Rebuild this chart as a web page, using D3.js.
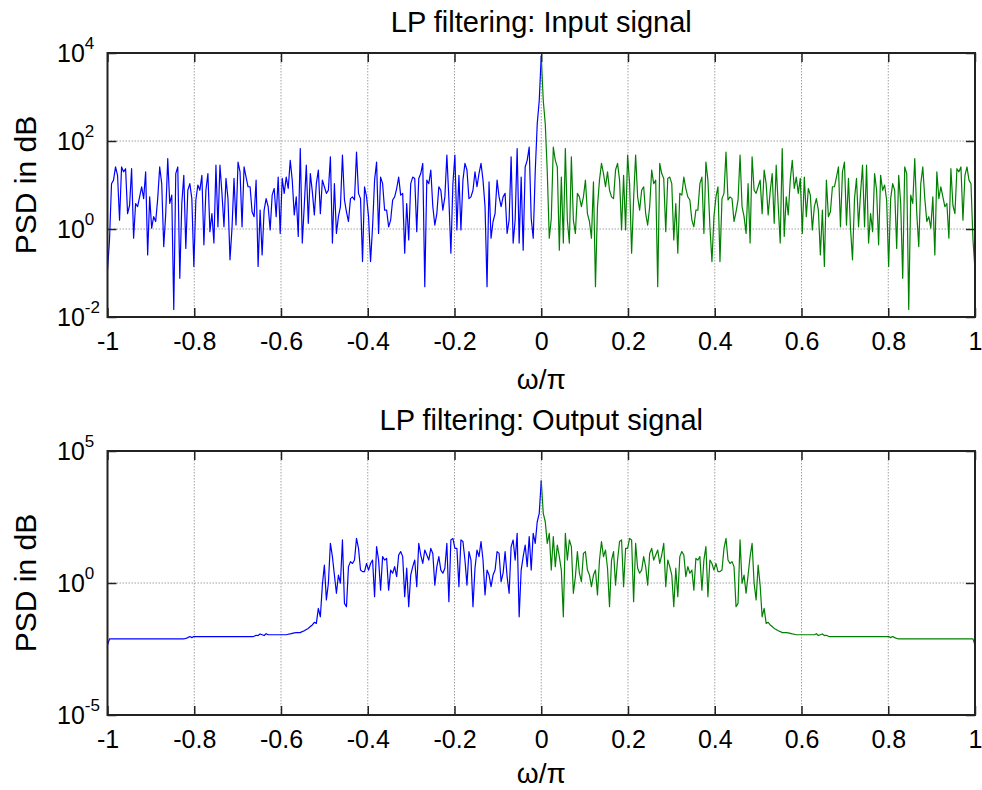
<!DOCTYPE html>
<html>
<head>
<meta charset="utf-8">
<script src="https://cdn.jsdelivr.net/npm/d3@7"></script>
<style>
  body { margin: 0; background: #fff; }
  svg { display: block; }
  text { font-family: "Liberation Sans", Arial, sans-serif; fill: #000; }
</style>
</head>
<body>
<svg id="fig" width="982" height="790"></svg>
<script>
// frequency axis (omega/pi) ticks
const freqTicks = [-1, -0.8, -0.6, -0.4, -0.2, 0, 0.2, 0.4, 0.6, 0.8, 1];
const freqTickLabels = ["-1", "-0.8", "-0.6", "-0.4", "-0.2", "0", "0.2", "0.4", "0.6", "0.8", "1"];

const inputTitle = "LP filtering: Input signal";
const outputTitle = "LP filtering: Output signal";
const yLabel = "PSD in dB";
const xLabel = "\u03c9/\u03c0";

// y ticks as powers of ten
const inputExpTicks = [-2, 0, 2, 4];
const outputExpTicks = [-5, 0, 5];

// log10(PSD), omega/pi from 0 to 1 (green half).
// the signal is real so the blue half (-1..0) is the same reading mirrored.
const inputPos = [
  3.94, 2.92, 2.39, 1.30, -0.21, 0.24, 1.86, 1.56, 1.41, -0.48,
  1.18, -0.32, 1.83, 0.20, -0.32, 1.64, 0.20, -0.10, 0.81, 0.73,
  0.51, 0.73, 1.11, 0.35, 0.17, -0.21, 1.07, -1.31, 0.51, 1.11,
  1.49, 1.26, 0.96, 1.30, 0.88, 0.73, 0.69, 1.34, 1.49, 1.11,
  -0.02, 1.22, -0.02, 1.68, 1.03, -0.55, 0.69, 1.68, 0.73, 0.43,
  0.88, 0.96, 0.35, 0.09, 0.51, 1.34, 1.03, 1.11, -1.31, 1.49,
  1.26, 1.15, -0.06, 1.15, 1.18, 1.03, -0.25, 0.58, -0.55, 0.81,
  0.77, 1.18, 0.92, 0.73, 0.66, 0.20, 0.05, 0.43, 0.43, 1.03,
  1.18, -0.10, 1.52, 1.11, 0.05, -0.74, 0.28, 0.73, 0.96, -0.74,
  0.69, 0.81, 1.75, 0.66, 0.73, 0.69, 0.17, 0.39, 0.66, 1.68,
  0.51, 0.28, -0.10, 1.03, -0.32, 1.64, 0.88, 0.81, 0.96, 1.11,
  0.35, 1.34, 1.03, 0.32, 0.85, 1.26, 0.13, 1.45, 0.54, -0.32,
  1.83, -0.17, 0.73, 0.32, 1.11, 1.56, 0.92, 1.18, 0.81, 1.15,
  -0.10, 1.18, 0.28, 0.92, 0.77, -0.02, 0.51, 0.69, 0.43, -0.59,
  0.43, -0.85, 1.11, 0.28, 0.39, 0.96, 0.96, 1.18, 1.41, 0.05,
  1.30, 1.52, 0.09, 1.15, 0.02, -0.70, 0.69, 1.15, 0.05, 0.81,
  1.45, 0.05, 1.45, -0.32, 0.35, -0.06, 1.26, 0.88, -0.36, 1.22,
  0.88, 1.00, 0.66, -0.85, 0.69, 1.03, 0.88, -0.44, 1.22, 0.58,
  -1.12, 1.41, 1.26, -1.83, 0.77, 0.58, 1.60, 0.35, -0.40, 1.03,
  1.41, 0.69, 0.17, 0.28, 0.02, 0.73, -0.59, 1.30, 0.69, 0.96,
  0.73, 0.51, 0.58, -0.21, 1.37, 0.54, 0.35, 1.37, 1.30, 1.41,
  0.20, 1.22, 1.41, 1.11, 1.03, -0.25, -0.93
];

const outputPos = [
  3.88, 2.64, 2.32, 1.50, 1.88, 0.49, 1.76, 0.62, 1.44, 1.00,
  0.49, -1.28, 1.88, 0.87, 1.63, 1.38, -0.39, 0.24, 1.19, 0.37,
  0.05, 1.12, 1.19, 0.49, 0.30, -0.14, 0.30, 0.49, -0.45, 0.87,
  1.57, 1.00, 1.25, 0.56, -0.90, 0.87, 1.19, -0.08, 0.87, 1.57,
  1.63, -0.14, 1.31, 1.31, 1.69, 1.63, -0.71, 1.50, 0.56, 0.37,
  0.49, 1.00, 0.62, -0.08, 1.12, 1.31, 0.87, 1.06, 1.25, 0.74,
  1.06, 1.50, -0.14, 0.87, 0.62, 0.30, -0.90, 0.56, -0.52, 1.00,
  1.19, 1.06, 0.24, 0.62, 0.37, 0.49, -0.27, 0.93, 0.87, 1.00,
  -0.27, 0.87, 1.38, -0.52, 0.87, 0.74, 0.49, 0.74, 0.43, 0.43,
  0.49, 1.31, 1.69, 0.87, 0.74, 0.81, 0.62, -0.90, -0.77, 1.63,
  -0.01, 0.30, -0.39, 0.30, 1.00, 1.50, -0.01, -0.64, 0.68, -0.08,
  -1.28, -0.96, -1.53, -1.49, -1.59, -1.65, -1.72, -1.76, -1.81, -1.84,
  -1.88, -1.88, -1.88, -1.89, -1.91, -1.93, -1.94, -1.96, -1.96, -1.96,
  -1.96, -1.96, -1.96, -1.96, -1.96, -1.96, -1.96, -1.92, -1.99, -1.96,
  -1.93, -1.99, -1.98, -2.02, -2.03, -2.03, -2.03, -2.03, -2.03, -2.03,
  -2.03, -2.03, -2.03, -2.03, -2.03, -2.03, -2.03, -2.03, -2.03, -2.03,
  -2.03, -2.03, -2.03, -2.03, -2.03, -2.03, -2.03, -2.03, -2.03, -2.03,
  -2.03, -2.03, -2.03, -2.03, -2.07, -2.03, -2.07, -2.10, -2.12, -2.12,
  -2.12, -2.12, -2.12, -2.12, -2.12, -2.12, -2.12, -2.12, -2.12, -2.12,
  -2.12, -2.12, -2.12, -2.12, -2.12, -2.12, -2.12, -2.12, -2.12, -2.12,
  -2.12, -2.12, -2.12, -2.12, -2.12, -2.12, -2.12, -2.12, -2.12, -2.12,
  -2.12, -2.12, -2.12, -2.12, -2.12, -2.12, -2.35
];

const panels = [
  { title: inputTitle, pos: inputPos, expTicks: inputExpTicks, top: 53, bottom: 317, xlabY: 389 },
  { title: outputTitle, pos: outputPos, expTicks: outputExpTicks, top: 451, bottom: 715, xlabY: 783 }
];

const svg = d3.select("#fig");
const left = 107.5, right = 975;
const tickLen = 9;

panels.forEach(function(p, k) {
    var x = d3.scaleLinear().domain([-1, 1]).range([left, right]);
    var lo = d3.min(p.expTicks), hi = d3.max(p.expTicks);
    var y = d3.scaleLog().domain([Math.pow(10, lo), Math.pow(10, hi)]).range([p.bottom, p.top]);

    var g = svg.append("g");
    var clipId = "clip" + k;
    g.append("clipPath").attr("id", clipId)
        .append("rect").attr("x", left).attr("y", p.top)
        .attr("width", right - left).attr("height", p.bottom - p.top);

    // dotted grid
    var grid = g.append("g").attr("stroke", "#a0a0a0").attr("stroke-width", 1)
        .attr("stroke-dasharray", "1.5,1.5");
    grid.selectAll("line.gx").data(freqTicks).join("line")
        .attr("x1", d => x(d)).attr("x2", d => x(d))
        .attr("y1", p.top).attr("y2", p.bottom);
    grid.selectAll("line.gy").data(p.expTicks).join("line")
        .attr("x1", left).attr("x2", right)
        .attr("y1", d => y(Math.pow(10, d))).attr("y2", d => y(Math.pow(10, d)));

    var n = p.pos.length;
    var neg = p.pos.slice().reverse().map((v, i) => ({ f: -1 + i / (n - 1), v: Math.pow(10, v) }));
    var pos = p.pos.map((v, i) => ({ f: i / (n - 1), v: Math.pow(10, v) }));
    var line = d3.line().x(d => x(d.f)).y(d => y(d.v));

    var plot = g.append("g").attr("clip-path", "url(#" + clipId + ")")
        .attr("fill", "none").attr("stroke-width", 1.2).attr("stroke-linejoin", "round");
    plot.append("path").datum(neg).attr("stroke", "#0000ff").attr("d", line);
    plot.append("path").datum(pos).attr("stroke", "#008000").attr("d", line);

    // ticks inside the box on all four sides
    function styleAxis(sel) {
        sel.select(".domain").remove();
        sel.attr("font-family", null).attr("font-size", null);
        sel.selectAll(".tick line").attr("stroke", "#222").attr("stroke-width", 1.5);
    }
    g.append("g").attr("transform", "translate(0," + p.bottom + ")")
        .call(d3.axisBottom(x).tickValues(freqTicks)
            .tickFormat((d, i) => freqTickLabels[i]).tickSize(-tickLen).tickPadding(15))
        .call(styleAxis)
        .selectAll("text").attr("font-size", 25).attr("fill", "#000");
    g.append("g").attr("transform", "translate(0," + p.top + ")")
        .call(d3.axisTop(x).tickValues(freqTicks).tickFormat("").tickSize(-tickLen))
        .call(styleAxis);
    var yTickVals = p.expTicks.map(e => Math.pow(10, e));
    g.append("g").attr("transform", "translate(" + left + ",0)")
        .call(d3.axisLeft(y).tickValues(yTickVals).tickFormat("").tickSize(-tickLen))
        .call(styleAxis);
    g.append("g").attr("transform", "translate(" + right + ",0)")
        .call(d3.axisRight(y).tickValues(yTickVals).tickFormat("").tickSize(-tickLen))
        .call(styleAxis);

    // box
    g.append("rect").attr("x", left).attr("y", p.top)
        .attr("width", right - left).attr("height", p.bottom - p.top)
        .attr("fill", "none").attr("stroke", "#222").attr("stroke-width", 2);

    // y tick labels 10^e
    var yl = g.selectAll("text.ylab").data(p.expTicks).join("text")
        .attr("class", "ylab")
        .attr("x", 57).attr("y", d => y(Math.pow(10, d)) + 9)
        .attr("font-size", 25);
    yl.append("tspan").text("10");
    yl.append("tspan").attr("font-size", 17).attr("dy", -13).text(d => String(d));

    // titles and labels
    g.append("text").attr("x", (left + right) / 2).attr("y", p.top - 21)
        .attr("text-anchor", "middle").attr("font-size", 29).text(p.title);
    g.append("text").attr("x", (left + right) / 2).attr("y", p.xlabY)
        .attr("text-anchor", "middle").attr("font-size", 28)
        .attr("font-family", "'Liberation Serif', 'Times New Roman', serif").text(xLabel);
    g.append("text")
        .attr("transform", "translate(36," + (p.top + p.bottom) / 2 + ") rotate(-90)")
        .attr("text-anchor", "middle").attr("font-size", 30).text(yLabel);
});
</script>
</body>
</html>
